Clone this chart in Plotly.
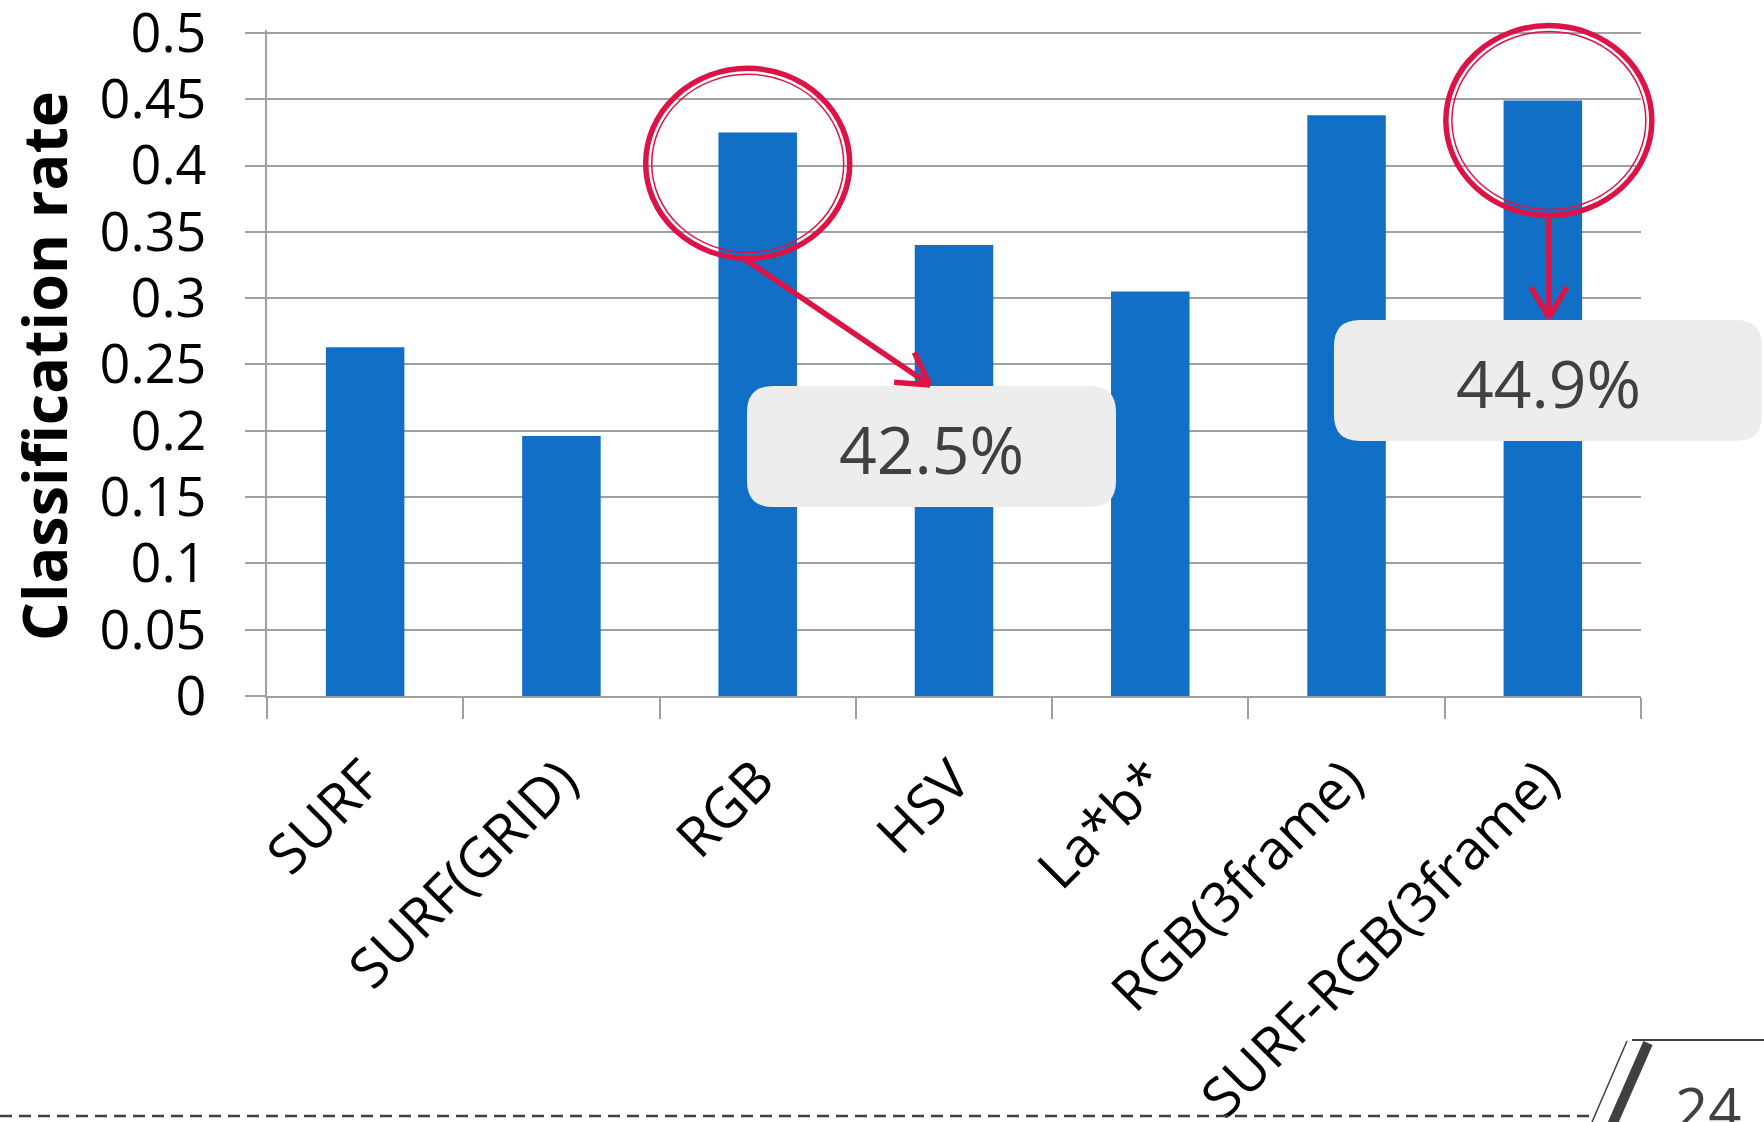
import math
import plotly.graph_objects as go

# ---------------- data ----------------
categories = ["SURF", "SURF(GRID)", "RGB", "HSV", "La*b*", "RGB(3frame)", "SURF-RGB(3frame)"]
rates = [0.263, 0.196, 0.425, 0.340, 0.305, 0.438, 0.449]
y_ticks = [0, 0.05, 0.1, 0.15, 0.2, 0.25, 0.3, 0.35, 0.4, 0.45, 0.5]
y_tick_labels = ["0", "0.05", "0.1", "0.15", "0.2", "0.25", "0.3", "0.35", "0.4", "0.45", "0.5"]
highlight_idx = [2, 6]
highlight_labels = ["42.5%", "44.9%"]
page_number = "24"

# ---------------- geometry ----------------
W, H = 1764, 1122
YTOP = 0.5          # value drawn at the top gridline
YPAD = 0.0022       # small headroom so the 0.5 gridline is drawn
ML, MR, MB = 267, 123, 426
PLOT_TOP_PX = 33    # pixel row of the 0.5 gridline
PH05 = H - MB - PLOT_TOP_PX
MT = PLOT_TOP_PX - YPAD / YTOP * PH05
PW, PH = W - ML - MR, H - MT - MB
YMAX = YTOP + YPAD
FONT = "Open Sans"
BAR_COLOR = "#1170C6"
GRID = "#A0A0A0"
RED = "#DC1446"
DARK = "#404040"
n = len(categories)


def xpx(i):
    return ML + (i + 0.5) * PW / n


def ypx(v):
    return MT + PH - v / YMAX * PH


def px(x):
    return (x - ML) / PW


def py(y):
    return (MT + PH - y) / PH


fig = go.Figure()
fig.add_trace(go.Bar(
    x=categories, y=rates, marker=dict(color=BAR_COLOR, line=dict(width=0)),
    width=0.4, hoverinfo="x+y", showlegend=False,
))

shapes = []
annotations = []


def line(x0, y0, x1, y1, color, width, dash=None):
    d = dict(type="line", xref="paper", yref="paper",
             x0=px(x0), y0=py(y0), x1=px(x1), y1=py(y1),
             line=dict(color=color, width=width), layer="above")
    if dash:
        d["line"]["dash"] = dash
    shapes.append(d)


def ellipse(cx, cy, rx, ry, color, width):
    shapes.append(dict(type="circle", xref="paper", yref="paper",
                       x0=px(cx - rx), x1=px(cx + rx), y0=py(cy + ry), y1=py(cy - ry),
                       line=dict(color=color, width=width), layer="above"))


def rounded_box(x0, y0, x1, y1, r, color):
    pts = [
        ("M", [(x0 + r, y0)]), ("L", [(x1 - r, y0)]), ("Q", [(x1, y0), (x1, y0 + r)]),
        ("L", [(x1, y1 - r)]), ("Q", [(x1, y1), (x1 - r, y1)]),
        ("L", [(x0 + r, y1)]), ("Q", [(x0, y1), (x0, y1 - r)]),
        ("L", [(x0, y0 + r)]), ("Q", [(x0, y0), (x0 + r, y0)]),
    ]
    path = ""
    for cmd, ps in pts:
        path += cmd + " ".join(f"{px(a):.5f},{py(b):.5f}" for a, b in ps) + " "
    path += "Z"
    shapes.append(dict(type="path", xref="paper", yref="paper", path=path,
                       fillcolor=color, line=dict(width=0), layer="above"))


# highlight decorations, anchored on the bars
deco = [
    dict(dx=-10, dy=31, rx=102, ry=95, sdx=-4, tip=(930, 385), box=(747, 386, 1116, 507)),
    dict(dx=6, dy=20, rx=103, ry=95, sdx=0, tip=(1549, 318), box=(1334, 320, 1762, 441)),
]
for k, (i, lab) in enumerate(zip(highlight_idx, highlight_labels)):
    d = deco[k]
    cx = xpx(i) + d["dx"]
    cy = ypx(rates[i]) + d["dy"]
    bx0, by0, bx1, by1 = d["box"]
    rounded_box(bx0, by0, bx1, by1, 26, "#EDEDED")
    annotations.append(dict(xref="paper", yref="paper", x=px((bx0 + bx1) / 2), y=py((by0 + by1) / 2 + 2),
                            text=lab, showarrow=False, xanchor="center", yanchor="middle",
                            font=dict(family=FONT, size=66, color=DARK)))
    ellipse(cx, cy, d["rx"], d["ry"], RED, 5.5)
    ellipse(cx, cy, d["rx"] - 6, d["ry"] - 6, RED, 1.5)
    sx, sy = cx + d["sdx"], cy + d["ry"]
    tx, ty = d["tip"]
    line(sx, sy, tx, ty, RED, 5.5)
    ang = math.atan2(sy - ty, sx - tx)
    for s in (-1, 1):
        a = ang + s * math.radians(30)
        line(tx, ty, tx + 36 * math.cos(a), ty + 36 * math.sin(a), RED, 5.5)

# y axis title
annotations.append(dict(xref="paper", yref="paper", x=px(44), y=py(366), text="<b>Classification rate</b>",
                        textangle=-90, showarrow=False, xanchor="center", yanchor="middle",
                        font=dict(family=FONT, size=61, color="black")))

# page footer
line(0, 1116, 1590, 1116, DARK, 2.5, dash="12px,7px")
line(1592, 1122, 1627, 1041, DARK, 1.5)
line(1612, 1125, 1648, 1043, DARK, 10)
line(1632, 1040, 1764, 1040, DARK, 2)
annotations.append(dict(xref="paper", yref="paper", x=px(1708), y=py(1066), text=page_number,
                        showarrow=False, xanchor="center", yanchor="top",
                        font=dict(family=FONT, size=58, color=DARK)))

fig.update_layout(
    width=W, height=H, autosize=False,
    margin=dict(l=ML, r=MR, t=MT, b=MB, pad=0),
    paper_bgcolor="white", plot_bgcolor="white",
    bargap=0.6, showlegend=False,
    shapes=shapes, annotations=annotations,
    font=dict(family=FONT, color="black"),
)
fig.update_xaxes(
    type="category", tickson="boundaries", ticks="outside", ticklen=21, tickwidth=1.5, tickcolor=GRID,
    showline=True, linecolor=GRID, linewidth=1.5, showgrid=False, tickangle=-45,
    tickfont=dict(family=FONT, size=55, color="black"), ticklabelstandoff=28,
    ticklabeloverflow="allow", automargin=False,
)
fig.update_yaxes(
    range=[0, YMAX], tickvals=y_ticks, ticktext=y_tick_labels, ticks="outside", ticklen=20,
    tickwidth=1.5, tickcolor=GRID, showline=True, linecolor=GRID, linewidth=1.5,
    showgrid=True, gridcolor=GRID, gridwidth=1.5, zeroline=False,
    tickfont=dict(family=FONT, size=54, color="black"), ticklabelstandoff=28,
    ticklabeloverflow="allow", automargin=False,
)

fig.write_html("out.html")
